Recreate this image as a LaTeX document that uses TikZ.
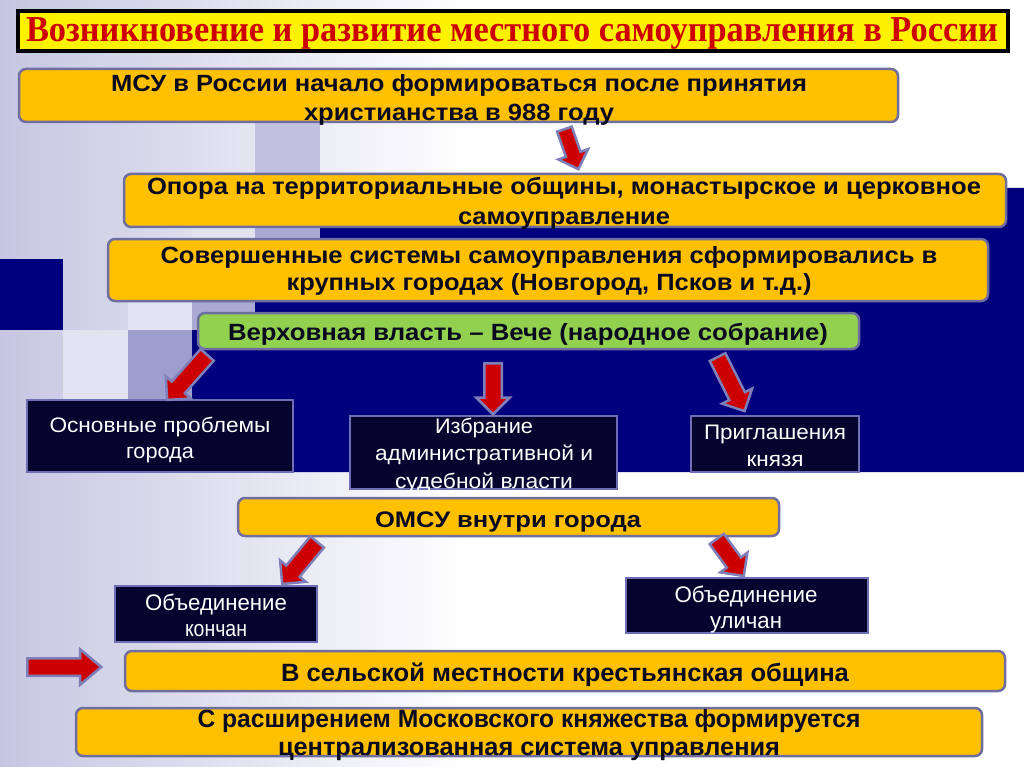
\documentclass[tikz,border=0pt]{standalone}
\usepackage{fontspec}
\setmainfont{Liberation Sans}
\newfontfamily\ttlfont{Liberation Serif}
\usepackage{graphicx}
\usetikzlibrary{calc,shapes.arrows}
\definecolor{bgl}{HTML}{C6C6E2}
\definecolor{sqa}{HTML}{C2C2E0}
\definecolor{sqb}{HTML}{A9A9D3}
\definecolor{sqc}{HTML}{9E9ECE}
\definecolor{sqd}{HTML}{E2E2F0}
\definecolor{bgnavy}{HTML}{00007F}
\definecolor{boxyel}{HTML}{FFC000}
\definecolor{boxgrn}{HTML}{92D050}
\definecolor{boxline}{HTML}{6E6EA0}
\definecolor{darkfill}{HTML}{04042E}
\definecolor{darkline}{HTML}{6E6EB6}
\definecolor{arrred}{HTML}{CC0000}
\definecolor{arrline}{HTML}{7E7EB8}
\definecolor{ttlred}{HTML}{CC0000}
\definecolor{txtdark}{HTML}{0A0A1E}
\newlength\fitlen
\newcommand\fitw[2]{\settowidth{\fitlen}{#2}\pgfmathsetmacro\fitsx{#1/\fitlen}\scalebox{\fitsx}[1]{#2}}
\newcommand\blockarrow[4][]{%
  \path let \p1=($(#4)-(#3)$), \n1={veclen(\x1,\y1)}, \n2={atan2(\y1,\x1)} in
    node[blockarr,#1,anchor=tail,rotate=\n2,minimum height=\n1] (#2) at (#3) {};}
\begin{document}
\begin{tikzpicture}[x=1pt,y=-1pt,
  ybox/.style={draw=boxline, line width=2.5pt, rounded corners=7pt, fill=boxyel, inner sep=0pt},
  gbox/.style={ybox, fill=boxgrn},
  dbox/.style={draw=darkline, line width=2.5pt, fill=darkfill, inner sep=0pt},
  ttlbox/.style={draw=black, line width=4pt, fill=yellow, inner sep=0pt},
  btxt/.style={inner sep=0pt, align=center, text=txtdark, anchor=north},
  wtxt/.style={inner sep=0pt, align=center, text=white, anchor=north},
  blockarr/.style={single arrow, draw=arrline, fill=arrred, line width=2.5pt, inner sep=0pt,
    minimum width=0pt, inner ysep=7.5pt, single arrow head extend=8pt}]
\useasboundingbox (0,0) rectangle (1024,767);
% background
\fill[white] (0,0) rectangle (1024,767);
\shade[left color=bgl, right color=white] (0,0) rectangle (470,767);
\fill[sqd] (128,259) rectangle (192,330);
\fill[sqd] (63,330) rectangle (128,401);
\fill[sqd] (192,188) rectangle (255,259);
\fill[sqa] (255,117) rectangle (320,188);
\fill[sqb] (255,188) rectangle (320,259);
\fill[sqb] (192,259) rectangle (255,330);
\fill[sqc] (128,330) rectangle (192,401);
\fill[bgnavy] (0,259) rectangle (63,330);
\fill[bgnavy] (320,188) -- (1024,188) -- (1024,472) -- (192,472) -- (192,330)
  -- (255,330) -- (255,259) -- (320,259) -- cycle;
% title
\node[ttlbox, minimum width=990pt, minimum height=40pt] (ttl) at (513,31) {};
\node[anchor=base, inner sep=0pt, text=ttlred, font=\ttlfont\bfseries\fontsize{36.5}{40}\selectfont]
  (ttlt) at (512,42) {\fitw{972}{Возникновение и развитие местного самоуправления в России}};
% boxes
\node[ybox, minimum width=879pt, minimum height=53pt] (b1) at (458.5,95.5) {};
\node[btxt, font=\bfseries\fontsize{23.5}{29}\selectfont] (b1t) at (459,74.5)
  {\fitw{696}{МСУ в России начало формироваться после принятия}\\\fitw{310}{христианства в 988 году}};
\node[ybox, minimum width=882pt, minimum height=53pt] (b2) at (565,200.5) {};
\node[btxt, font=\bfseries\fontsize{23.5}{30}\selectfont] (b2t) at (564,177.5)
  {\fitw{834}{Опора на территориальные общины, монастырское и церковное}\\\fitw{212}{самоуправление}};
\node[ybox, minimum width=880pt, minimum height=62pt] (b3) at (548,270) {};
\node[btxt, font=\bfseries\fontsize{23.5}{27}\selectfont] (b3t) at (549,246.5)
  {\fitw{777}{Совершенные системы самоуправления сформировались в}\\\fitw{525}{крупных городах (Новгород, Псков и т.д.)}};
\node[gbox, minimum width=661pt, minimum height=36pt] (vech) at (528.5,331) {};
\node[anchor=base, inner sep=0pt, text=txtdark, font=\bfseries\fontsize{23.5}{28}\selectfont]
  (vecht) at (528,340) {\fitw{600}{Верховная власть – Вече (народное собрание)}};
% dark boxes
\node[dbox, minimum width=266pt, minimum height=72pt] (d1) at (160,436) {};
\node[wtxt, font=\fontsize{21}{26}\selectfont] (d1t) at (160,416.5)
  {\fitw{221}{Основные проблемы}\\\fitw{68}{города}};
\node[dbox, minimum width=267pt, minimum height=73pt] (d2) at (483.5,452.5) {};
\node[wtxt, font=\fontsize{21}{27.5}\selectfont] (d2t) at (484,417.5)
  {\fitw{98}{Избрание}\\\fitw{218}{административной и}\\\fitw{178}{судебной власти}};
\node[dbox, minimum width=168pt, minimum height=56pt] (d3) at (775,444) {};
\node[wtxt, font=\fontsize{21}{27}\selectfont] (d3t) at (775,424.5)
  {\fitw{142}{Приглашения}\\\fitw{57}{князя}};
% OMSU
\node[ybox, minimum width=541pt, minimum height=38pt] (omsu) at (508.5,517) {};
\node[anchor=base, inner sep=0pt, text=txtdark, font=\bfseries\fontsize{22.5}{27}\selectfont]
  (omsut) at (508,527) {\fitw{266}{ОМСУ внутри города}};
\node[dbox, minimum width=202pt, minimum height=56pt] (d4) at (216,614) {};
\node[wtxt, font=\fontsize{22.5}{26}\selectfont] (d4t) at (216,594)
  {\fitw{142}{Объединение}\\\fitw{62}{кончан}};
\node[dbox, minimum width=242pt, minimum height=55pt] (d5) at (747,605.5) {};
\node[wtxt, font=\fontsize{22.5}{26}\selectfont] (d5t) at (746,586)
  {\fitw{143}{Объединение}\\\fitw{72}{уличан}};
% bottom boxes
\node[ybox, minimum width=880pt, minimum height=40pt] (b6) at (565,671) {};
\node[anchor=base, inner sep=0pt, text=txtdark, font=\bfseries\fontsize{25}{28}\selectfont]
  (b6t) at (565,681) {\fitw{568}{В сельской местности крестьянская община}};
\node[ybox, minimum width=906pt, minimum height=48pt] (b7) at (529,732) {};
\node[btxt, font=\bfseries\fontsize{25}{28}\selectfont] (b7t) at (529,709.5)
  {\fitw{663}{С расширением Московского княжества формируется}\\\fitw{502}{централизованная система управления}};
% arrows
\coordinate (a1s) at (564,128);  \coordinate (a1e) at (578,168);
\coordinate (a2s) at (208,354);  \coordinate (a2e) at (168,399);
\coordinate (a3s) at (493,362);  \coordinate (a3e) at (493,413);
\coordinate (a4s) at (717,356);  \coordinate (a4e) at (744,410);
\coordinate (a5s) at (318,541);  \coordinate (a5e) at (283,583);
\coordinate (a6s) at (716,538);  \coordinate (a6e) at (743,575);
\coordinate (a7s) at (26,667);   \coordinate (a7e) at (100,667);
\blockarrow[inner ysep=6.5pt]{ar1}{a1s}{a1e}
\blockarrow{ar2}{a2s}{a2e}
\blockarrow{ar3}{a3s}{a3e}
\blockarrow{ar4}{a4s}{a4e}
\blockarrow{ar5}{a5s}{a5e}
\blockarrow{ar6}{a6s}{a6e}
\blockarrow[inner ysep=7.5pt, single arrow head extend=9pt, single arrow tip angle=80]{ar7}{a7s}{a7e}
\end{tikzpicture}
\end{document}
